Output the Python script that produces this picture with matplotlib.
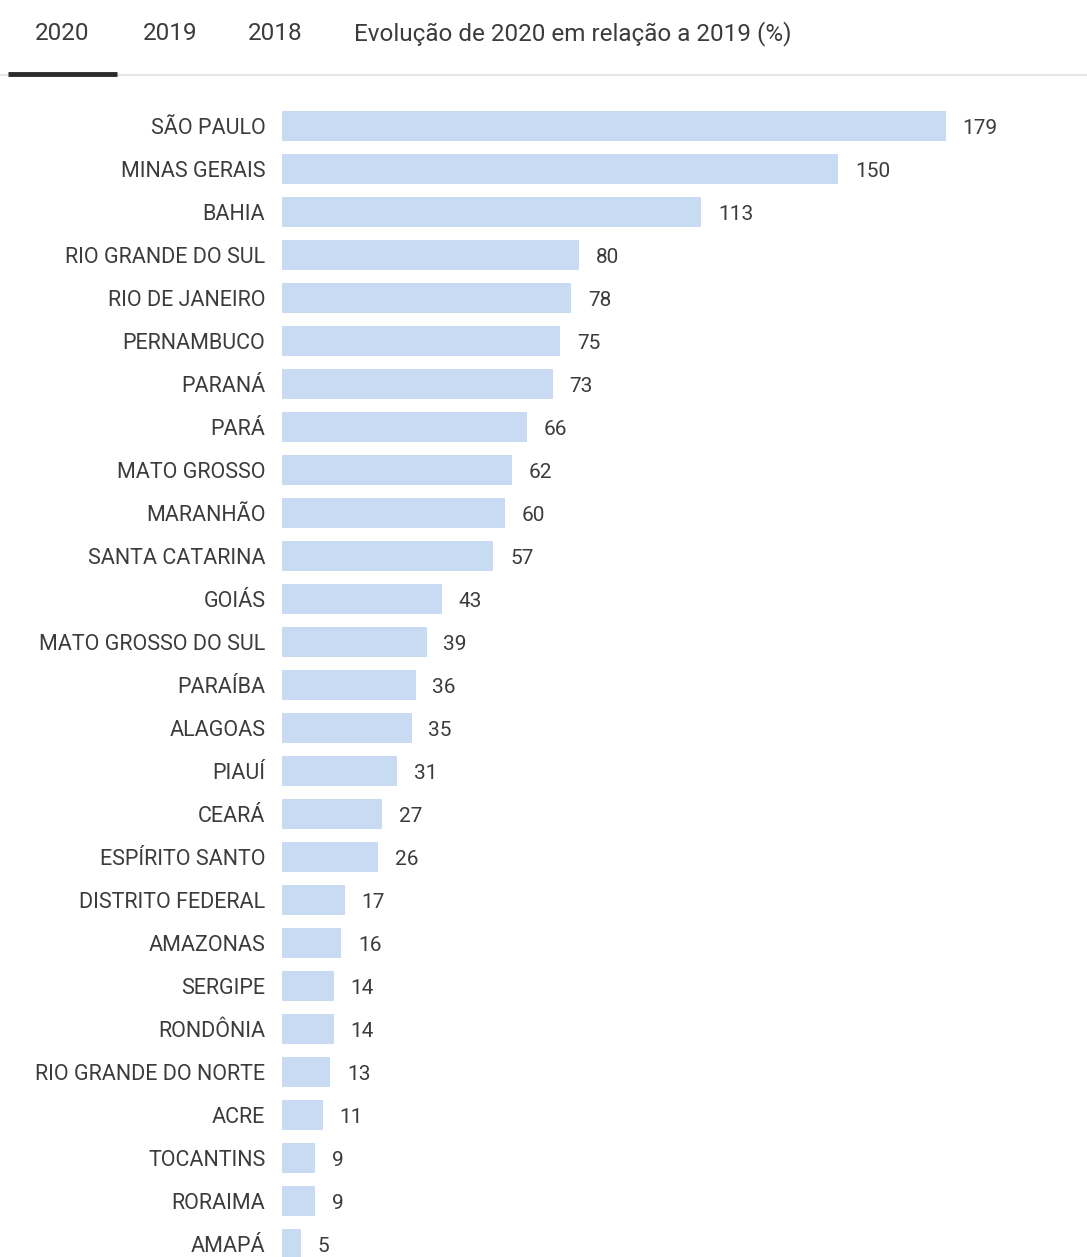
import matplotlib
matplotlib.use("Agg")
import matplotlib.pyplot as plt
from matplotlib import font_manager

# data
estados = [
    "SÃO PAULO", "MINAS GERAIS", "BAHIA", "RIO GRANDE DO SUL", "RIO DE JANEIRO",
    "PERNAMBUCO", "PARANÁ", "PARÁ", "MATO GROSSO", "MARANHÃO",
    "SANTA CATARINA", "GOIÁS", "MATO GROSSO DO SUL", "PARAÍBA", "ALAGOAS",
    "PIAUÍ", "CEARÁ", "ESPÍRITO SANTO", "DISTRITO FEDERAL", "AMAZONAS",
    "SERGIPE", "RONDÔNIA", "RIO GRANDE DO NORTE", "ACRE", "TOCANTINS",
    "RORAIMA", "AMAPÁ",
]
valores = [179, 150, 113, 80, 78, 75, 73, 66, 62, 60, 57, 43, 39, 36, 35,
           31, 27, 26, 17, 16, 14, 14, 13, 11, 9, 9, 5]
abas = ["2020", "2019", "2018", "Evolução de 2020 em relação a 2019 (%)"]

# pick a narrow-ish font if one is around
available = {f.name for f in font_manager.fontManager.ttflist}
fam = next((f for f in ["Liberation Sans Narrow", "Roboto", "Open Sans"] if f in available),
           "DejaVu Sans")
plt.rcParams["font.family"] = [fam, "DejaVu Sans"]

W, H = 1087, 1257
fig = plt.figure(figsize=(W / 100, H / 100), dpi=100)
fig.patch.set_facecolor("white")

txt = "#3c3c3c"

# tabs on top
tab_x = [35, 143, 248, 354]
for x, label in zip(tab_x, abas):
    fig.text(x / W, 1 - 34 / H, label, fontsize=17.5, color=txt, va="center", ha="left")
fig.add_artist(plt.Line2D([0, 1], [1 - 75 / H] * 2, color="#e6e6e6", lw=1.5))
fig.add_artist(plt.Line2D([8 / W, 117 / W], [1 - 74 / H] * 2, color="#2b2b2b", lw=3.5,
                          solid_capstyle="butt"))

# axes laid out in pixels: bars start at x=282, row pitch 43 px
px_per_unit = (946 - 282) / 179
pitch = 43.0
top_px, first_center = 100, 126
ax = fig.add_axes([282 / W, 0, 1 - 282 / W, 1 - top_px / H])
ypos = list(range(len(estados)))
ax.barh(ypos, valores, height=30 / pitch, color="#c8dbf2")
ax.set_xlim(0, (W - 282) / px_per_unit)
ax.set_ylim((H - first_center) / pitch, -(first_center - top_px) / pitch)
ax.set_xticks([])
ax.set_yticks([])
for s in ax.spines.values():
    s.set_visible(False)

for y, nome, v in zip(ypos, estados, valores):
    ax.annotate(nome, (0, y), xytext=(-12, -1.5), textcoords="offset points",
                va="center", ha="right", fontsize=15.5, color=txt, annotation_clip=False)
    ax.annotate(str(v), (v, y), xytext=(12, -1.5), textcoords="offset points",
                va="center", ha="left", fontsize=15, color=txt, annotation_clip=False)

fig.savefig("out.png", dpi=100)
